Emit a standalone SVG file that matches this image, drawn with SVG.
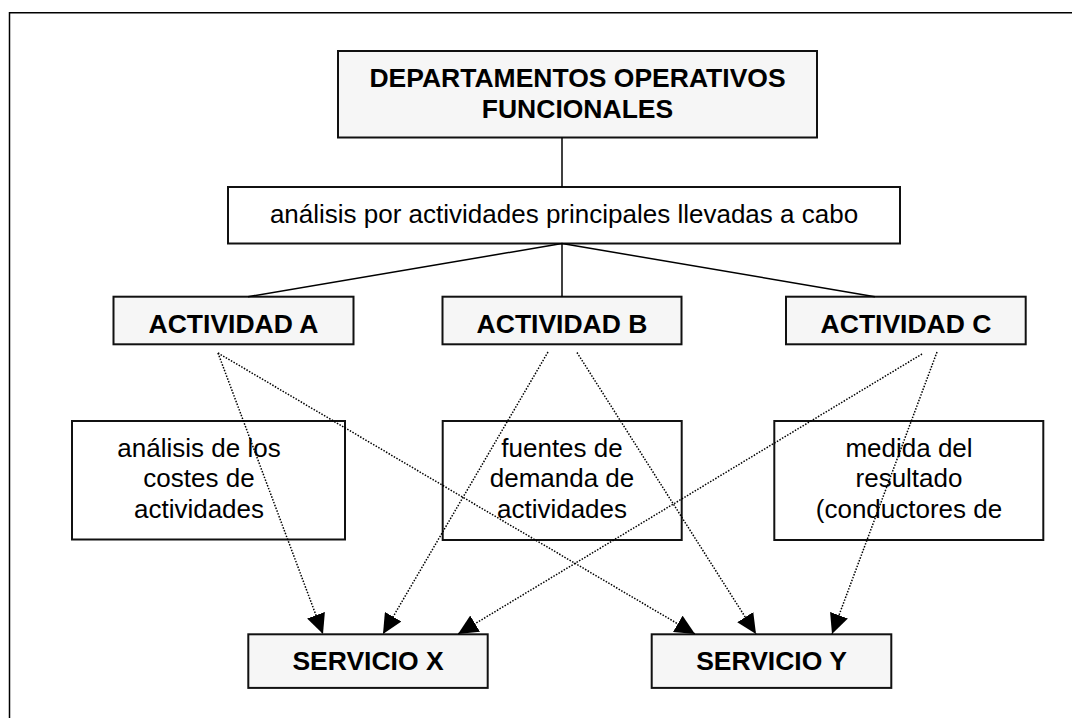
<svg xmlns="http://www.w3.org/2000/svg" width="1072" height="718" viewBox="0 0 1072 718">
<style>
  .frame{fill:none;stroke:#000;stroke-width:1.5}
  .bbox{fill:#f6f6f6;stroke:#111;stroke-width:2}
  .wbox{fill:#fff;stroke:#111;stroke-width:2}
  .bold{font-family:"Liberation Sans",Arial,sans-serif;font-weight:bold;font-size:26.5px;fill:#000;text-anchor:middle}
  .norm{font-family:"Liberation Sans",Arial,sans-serif;font-size:26px;fill:#000;text-anchor:middle}
  .solid{fill:none;stroke:#000;stroke-width:1.5}
  .dot{fill:none;stroke:#000;stroke-width:1.5;stroke-dasharray:1.5 1.5}
</style>
<defs>
  <marker id="ah" markerUnits="userSpaceOnUse" markerWidth="20" markerHeight="19" refX="20" refY="9.5" orient="auto">
    <path d="M0,0 L20,9.5 L0,19 z" fill="#000"/>
  </marker>
</defs>
<rect width="1072" height="718" fill="#fff"/>
<path class="frame" d="M9.5,718 L9.5,12.7 L1072,12.7"/>

<g id="dept">
  <rect class="bbox" x="338" y="51" width="479" height="86.5"/>
  <text class="bold" x="577.5" y="87">DEPARTAMENTOS OPERATIVOS</text>
  <text class="bold" x="577.5" y="117.5">FUNCIONALES</text>
</g>
<g id="analisis">
  <rect class="wbox" x="228" y="187" width="672" height="56.5"/>
  <text class="norm" x="564" y="222.5">análisis por actividades principales llevadas a cabo</text>
</g>
<g id="actA">
  <rect class="bbox" x="113.5" y="296.7" width="240" height="47.6"/>
  <text class="bold" x="233.5" y="333">ACTIVIDAD A</text>
</g>
<g id="actB">
  <rect class="bbox" x="442.5" y="296.7" width="239" height="47.6"/>
  <text class="bold" x="562" y="333">ACTIVIDAD B</text>
</g>
<g id="actC">
  <rect class="bbox" x="786" y="296.7" width="239.7" height="47.6"/>
  <text class="bold" x="906" y="333">ACTIVIDAD C</text>
</g>

<g id="costes">
  <rect class="wbox" x="72" y="421" width="273" height="118.5"/>
  <text class="norm" x="199" y="456.5">análisis de los</text>
  <text class="norm" x="199" y="487">costes de</text>
  <text class="norm" x="199" y="517.5">actividades</text>
</g>
<g id="fuentes">
  <rect class="wbox" x="442.7" y="421" width="239" height="119"/>
  <text class="norm" x="562" y="456.5">fuentes de</text>
  <text class="norm" x="562" y="487">demanda de</text>
  <text class="norm" x="562" y="517.5">actividades</text>
</g>
<g id="medida">
  <rect class="wbox" x="774.3" y="421" width="269" height="119"/>
  <text class="norm" x="909" y="456.5">medida del</text>
  <text class="norm" x="909" y="487">resultado</text>
  <text class="norm" x="909" y="517.5">(conductores de</text>
</g>

<g id="servX">
  <rect class="bbox" x="248.3" y="634.3" width="239.4" height="53.6"/>
  <text class="bold" x="368" y="670">SERVICIO X</text>
</g>
<g id="servY">
  <rect class="bbox" x="651.7" y="634.3" width="239.6" height="53.6"/>
  <text class="bold" x="771.5" y="670">SERVICIO Y</text>
</g>

<g id="connectors">
  <line class="solid" x1="562" y1="137.5" x2="562" y2="187"/>
  <line class="solid" x1="562" y1="243.5" x2="248" y2="296.7"/>
  <line class="solid" x1="562" y1="243.5" x2="562" y2="296.7"/>
  <line class="solid" x1="562" y1="243.5" x2="875" y2="296.7"/>
  <line class="dot" x1="218" y1="353" x2="323" y2="634" marker-end="url(#ah)"/>
  <line class="dot" x1="218" y1="353" x2="695" y2="634" marker-end="url(#ah)"/>
  <line class="dot" x1="548" y1="352" x2="383" y2="634" marker-end="url(#ah)"/>
  <line class="dot" x1="577" y1="352.5" x2="756" y2="634" marker-end="url(#ah)"/>
  <line class="dot" x1="922" y1="354" x2="458" y2="634" marker-end="url(#ah)"/>
  <line class="dot" x1="937" y1="352" x2="832" y2="634" marker-end="url(#ah)"/>
</g>
</svg>
